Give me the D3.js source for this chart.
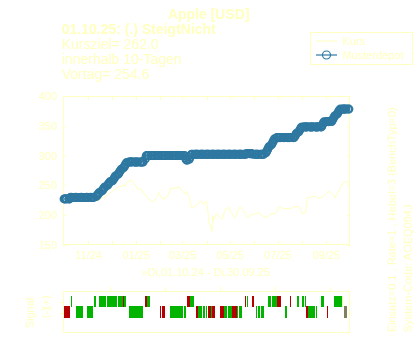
<!DOCTYPE html>
<html><head><meta charset="utf-8">
<script src="https://cdn.jsdelivr.net/npm/d3@7"></script>
<style>body{margin:0;background:#fff}svg{display:block}</style>
</head><body>
<svg id="c" width="420" height="350"></svg>
<script>
// ---------------- DATA ----------------
const title = "Apple [USD]";
const headLine = "01.10.25: (.) SteigtNicht";
const infoLines = ["Kursziel= 262.0", "innerhalb 10-Tagen", "Vortag= 254.6"];
const legendLabels = ["Kurs", "Musterdepot"];
const xAxisTitle = "\u00bbDi,01.10.24 - Di,30.09.25";
const sideText1 = "Einsatz=0.1 , Rate=1 , Hebel=3 (BenchTyp=0)";
const sideText2 = "System-Code: AOEQ094J";
const signalTitle = "Signal";
const signalTickLabels = ["(-)", "(+)"];
const signalTickValues = [0, 1];
const signalXTicks = [50, 100, 150, 200, 250];

const yTicks = [150, 200, 250, 300, 350, 400];
const xTickDates = ["2024-11-01","2024-12-01","2025-01-01","2025-02-01","2025-03-01","2025-04-01",
                    "2025-05-01","2025-06-01","2025-07-01","2025-08-01","2025-09-01"];
const xTickLabels = ["11/24","","01/25","","03/25","","05/25","","07/25","","09/25"];

// Kurs (price)
const kursDates = ["2024-10-01","2024-10-04","2024-10-09","2024-10-11","2024-10-15","2024-10-18","2024-10-22","2024-10-25","2024-10-29",
"2024-11-01","2024-11-06","2024-11-08","2024-11-13","2024-11-15","2024-11-20","2024-11-22","2024-11-27","2024-11-29",
"2024-12-04","2024-12-06","2024-12-10","2024-12-13","2024-12-16","2024-12-18","2024-12-20","2024-12-24","2024-12-26","2024-12-30",
"2025-01-03","2025-01-08","2025-01-10","2025-01-14","2025-01-16","2025-01-21","2025-01-24","2025-01-27","2025-01-30",
"2025-02-03","2025-02-07","2025-02-11","2025-02-14","2025-02-19","2025-02-21","2025-02-25","2025-02-28",
"2025-03-04","2025-03-07","2025-03-10","2025-03-13","2025-03-17","2025-03-21","2025-03-25","2025-03-28",
"2025-04-01","2025-04-03","2025-04-04","2025-04-08","2025-04-09","2025-04-10","2025-04-14","2025-04-17","2025-04-21","2025-04-25","2025-04-30",
"2025-05-02","2025-05-07","2025-05-09","2025-05-13","2025-05-16","2025-05-21","2025-05-23","2025-05-28",
"2025-06-02","2025-06-06","2025-06-11","2025-06-13","2025-06-18","2025-06-20","2025-06-25","2025-06-30",
"2025-07-03","2025-07-08","2025-07-11","2025-07-16","2025-07-18","2025-07-23","2025-07-28","2025-07-31",
"2025-08-01","2025-08-05","2025-08-07","2025-08-08","2025-08-12","2025-08-15","2025-08-19","2025-08-22","2025-08-27","2025-08-29",
"2025-09-03","2025-09-05","2025-09-09","2025-09-12","2025-09-16","2025-09-19","2025-09-23","2025-09-25","2025-09-26","2025-09-30"];
const kursValues = [226.2,226.8,229.5,227.6,233.9,235.0,235.9,231.4,233.7,
222.9,222.7,227.0,225.1,225.0,229.0,229.9,234.9,237.3,
243.0,242.8,247.8,248.1,251.0,248.1,254.5,258.2,259.0,252.2,
243.4,242.7,236.9,233.3,228.3,222.6,222.8,229.9,237.6,
228.0,227.6,232.6,244.6,244.9,245.6,247.1,241.8,
235.9,239.1,227.5,212.7,214.0,218.3,223.8,217.9,
223.2,203.2,188.4,172.4,198.9,190.4,202.5,197.0,193.2,209.3,212.5,
205.4,196.3,198.5,212.9,211.3,202.1,195.3,200.4,
201.7,203.9,198.8,196.5,196.6,201.0,201.6,205.2,
213.6,210.0,211.2,210.2,211.2,214.2,214.1,207.6,
202.4,202.9,220.0,229.4,229.7,231.6,230.6,227.8,230.5,232.1,
238.5,239.7,234.4,229.1,238.2,245.5,254.4,257.0,255.5,254.6];

// Musterdepot, one value per weekday, Oct 2024 .. Sep 2025
const depotOct = [227.0,227.0,227.1,227.0,226.9,227.0,229.5,229.6,229.5,229.4,229.5,229.6,229.5,229.5,229.4,229.5,229.6,229.5,229.5,229.4,229.5,229.6,229.5];
const depotNov = [229.5,229.6,229.5,229.4,229.5,229.6,231.0,232.6,234.0,236.1,237.8,240.0,241.6,243.2,245.5,247.0,249.3,250.6,252.9,254.3,256.4];
const depotDec = [257.4,259.9,261.5,264.2,266.0,268.3,270.1,272.8,274.5,277.0,279.4,281.2,283.9,286.1,288.4,289.2,289.0,289.1,289.3,289.2,289.0,289.1];
const depotJan = [289.1,289.0,289.2,289.1,289.0,289.2,289.1,289.0,294.5,299.6,299.8,300.0,299.9,300.1,300.0,299.8,300.0,300.1,299.9,300.0,300.0,300.1,299.9];
const depotFeb = [300.0,300.1,299.9,300.0,300.0,300.1,300.0,299.9,300.0,300.1,300.0,300.0,299.9,300.0,300.1,300.0,300.0,299.9,300.0,300.1];
const depotMar = [300.0,299.8,296.0,293.0,292.0,293.5,297.0,301.0,302.0,302.1,301.9,302.0,302.0,302.1,302.0,301.9,302.0,302.0,302.1,302.0,301.9];
const depotApr = [302.0,302.0,302.1,302.0,301.9,302.0,302.0,302.1,302.0,302.0,301.9,302.0,302.1,302.0,302.0,301.9,302.0,302.0,302.1,302.0,302.0,301.9];
const depotMay = [302.0,302.0,302.1,302.0,301.9,302.0,302.0,302.1,302.0,302.0,301.9,302.0,302.1,302.0,302.0,303.0,303.2,303.1,303.0,303.2,303.1,302.2];
const depotJun = [302.0,301.9,302.0,302.0,302.1,302.0,301.9,302.0,302.0,302.1,304.5,307.2,309.8,312.5,315.1,317.9,320.4,323.0,325.6,328.1,330.2];
const depotJul = [330.2,330.0,330.1,330.0,330.2,330.1,330.0,330.1,330.2,330.0,330.1,330.0,330.2,330.1,330.0,330.1,332.5,334.8,337.4,339.9,342.3,344.8,347.0];
const depotAug = [348.0,348.1,348.0,347.9,348.0,348.1,348.0,348.0,347.9,348.0,348.1,348.0,348.0,347.9,348.0,348.1,348.0,348.0,351.0,354.0,356.5];
const depotSep = [357.0,357.1,357.0,356.9,357.0,357.1,359.5,362.0,364.5,367.0,369.5,372.0,374.5,376.5,378.0,378.1,378.0,377.9,378.0,378.1,378.0,378.0];

// Signal bars: [startIndex, endIndex, type]  (g = green, r = red, o = olive, y = pale)
const signalPlus = [
[15.0,15.9,"g"],[35.6,36.5,"g"],[37.1,38.0,"g"],[40.5,46.5,"g"],[47.7,57.1,"g"],[57.7,62.0,"g"],[62.0,62.9,"r"],[62.9,64.7,"g"],
[82.3,84.1,"r"],[84.1,86.8,"g"],[120.5,123.2,"r"],[123.2,126.8,"g"],[173.2,174.1,"r"],[175.0,175.9,"g"],[179.5,181.4,"r"],
[194.1,196.8,"g"],[197.7,202.3,"g"],[202.3,205.9,"r"],[214.1,215.0,"r"],[220.5,222.3,"g"],[225.0,226.8,"g"],[227.7,228.6,"g"],
[242.3,245.0,"g"],[254.1,257.3,"g"],[257.7,261.4,"g"],[261.4,262.7,"y"]];
const signalMinus = [
[8.6,14.1,"r"],[19.5,25.9,"g"],[29.5,35.0,"g"],[67.7,77.7,"g"],[78.0,80.5,"g"],[95.9,96.8,"r"],[97.7,100.5,"r"],
[105.0,116.8,"g"],[117.7,119.5,"g"],[128.6,130.5,"r"],[130.5,134.1,"g"],[135.0,136.8,"g"],[137.7,138.6,"g"],
[139.5,142.3,"r"],[142.3,143.2,"g"],[143.2,145.9,"r"],[150.5,154.1,"r"],[154.1,156.8,"g"],[157.7,161.4,"g"],
[161.4,165.9,"r"],[165.9,166.8,"g"],[167.7,170.5,"g"],[183.2,184.1,"g"],[185.0,186.8,"g"],[187.7,190.5,"g"],
[209.5,211.4,"g"],[228.6,230.5,"r"],[230.5,236.8,"g"],[237.7,238.6,"g"],[247.7,248.6,"r"],[263.6,265.5,"o"]];

// ---------------- DRAWING ----------------
const FG = "#ffffbf";
const BLUE = "#2e78a1";
const FONT = "Liberation Sans, Arial, Helvetica, sans-serif";
const typeColor = {g: "#00b400", r: "#b40000", o: "#808060", y: "#e8ffa0"};
const parse = d3.timeParse("%Y-%m-%d");
const svg = d3.select("#c").style("font-family", FONT);
svg.append("rect").attr("width", 420).attr("height", 350).attr("fill", "#fff");

const X0 = 63.3, X1 = 349.7, Y0 = 96, Y1 = 244.7;
const x = d3.scaleTime().domain([new Date(2024, 8, 30), new Date(2025, 9, 1)]).range([X0, X1]);
const y = d3.scaleLinear().domain([150, 400]).range([Y1, Y0]);

function styleAxis(g, size) {
  g.select(".domain").remove();
  g.selectAll("line").attr("stroke", FG).attr("shape-rendering", "crispEdges");
  g.selectAll("text").attr("fill", FG).attr("font-size", size).attr("font-family", FONT);
}

// frame
svg.append("rect").attr("x", X0).attr("y", Y0).attr("width", X1 - X0).attr("height", Y1 - Y0)
  .attr("fill", "none").attr("stroke", FG).attr("shape-rendering", "crispEdges");

const xt = xTickDates.map(parse);
svg.append("g").attr("transform", `translate(0,${Y1})`)
  .call(d3.axisBottom(x).tickValues(xt).tickSize(-4).tickPadding(7).tickFormat((d, i) => xTickLabels[i]))
  .call(g => styleAxis(g, 11));
svg.append("g").attr("transform", `translate(0,${Y0})`)
  .call(d3.axisTop(x).tickValues(xt).tickSize(-4).tickFormat(""))
  .call(g => styleAxis(g, 11));
svg.append("g").attr("transform", `translate(${X0},0)`)
  .call(d3.axisLeft(y).tickValues(yTicks).tickSize(-3).tickPadding(6))
  .call(g => styleAxis(g, 11));
svg.append("g").attr("transform", `translate(${X1},0)`)
  .call(d3.axisRight(y).tickValues(yTicks).tickSize(-3).tickFormat(""))
  .call(g => styleAxis(g, 11));

// Kurs line
const kurs = kursDates.map((d, i) => ({date: parse(d), v: kursValues[i]}));
svg.append("path").datum(kurs)
  .attr("d", d3.line().x(d => x(d.date)).y(d => y(d.v)))
  .attr("fill", "none").attr("stroke", FG).attr("stroke-width", 1);

// Musterdepot
const depotValues = [].concat(depotOct, depotNov, depotDec, depotJan, depotFeb, depotMar,
  depotApr, depotMay, depotJun, depotJul, depotAug, depotSep);
const tradingDays = d3.timeDay.range(new Date(2024, 9, 1), new Date(2025, 9, 1)).filter(d => d.getDay() % 6 !== 0);
const depot = depotValues.map((v, i) => ({date: tradingDays[i], v}));
svg.append("path").datum(depot)
  .attr("d", d3.line().x(d => x(d.date)).y(d => y(d.v)))
  .attr("fill", "none").attr("stroke", BLUE).attr("stroke-width", 1);
svg.append("g").selectAll("circle").data(depot).join("circle")
  .attr("cx", d => x(d.date)).attr("cy", d => y(d.v)).attr("r", 3.6)
  .attr("fill", "none").attr("stroke", BLUE).attr("stroke-width", 1.8);

// x axis title
svg.append("text").attr("x", 206).attr("y", 276).attr("text-anchor", "middle")
  .attr("font-size", 11).attr("fill", FG).text(xAxisTitle);

// Titles
svg.append("text").attr("x", 209).attr("y", 19).attr("text-anchor", "middle")
  .attr("font-size", 14).attr("font-weight", "bold").attr("fill", FG).text(title);
svg.append("text").attr("x", 62).attr("y", 33.5)
  .attr("font-size", 14).attr("font-weight", "bold").attr("fill", FG).text(headLine);
infoLines.forEach((t, i) => {
  svg.append("text").attr("x", 62).attr("y", 49.3 + i * 15)
    .attr("font-size", 14).attr("fill", FG).text(t);
});

// Legend
const lg = svg.append("g");
lg.append("rect").attr("x", 310.5).attr("y", 32.5).attr("width", 102).attr("height", 32)
  .attr("fill", "none").attr("stroke", FG);
const legY = [41, 55];
lg.append("line").attr("x1", 316).attr("x2", 337).attr("y1", legY[0]).attr("y2", legY[0])
  .attr("stroke", FG);
lg.append("line").attr("x1", 316).attr("x2", 337).attr("y1", legY[1]).attr("y2", legY[1])
  .attr("stroke", BLUE).attr("stroke-width", 1.2);
lg.append("circle").attr("cx", 326.5).attr("cy", legY[1]).attr("r", 4)
  .attr("fill", "none").attr("stroke", BLUE).attr("stroke-width", 1.2);
legendLabels.forEach((t, i) => {
  lg.append("text").attr("x", 342.7).attr("y", legY[i] + 4).attr("font-size", 11)
    .attr("fill", FG).text(t);
});

// Side texts
svg.append("text").attr("transform", "translate(395.5,332.3) rotate(-90)")
  .attr("font-size", 11).attr("fill", FG).text(sideText1);
svg.append("text").attr("transform", "translate(412.3,332.3) rotate(-90)")
  .attr("font-size", 11).attr("fill", FG).text(sideText2);

// ---------------- Signal panel ----------------
const SX0 = 63.3, SX1 = 349.3, SY0 = 291, SY1 = 332.7;
const sx = d3.scaleLinear().domain([8, 268]).range([SX0, SX1]);
const sy = d3.scaleLinear().domain([-1.92, 2.09]).range([SY1, SY0]);

svg.append("rect").attr("x", SX0).attr("y", SY0).attr("width", SX1 - SX0).attr("height", SY1 - SY0)
  .attr("fill", "none").attr("stroke", FG).attr("shape-rendering", "crispEdges");

function drawBars(data, level) {
  svg.append("g").selectAll("rect").data(data).join("rect")
    .attr("x", d => sx(d[0])).attr("width", d => Math.max(0.8, sx(d[1]) - sx(d[0])))
    .attr("y", sy(level + 0.6)).attr("height", sy(level - 0.46) - sy(level + 0.6))
    .attr("fill", d => typeColor[d[2]]).attr("shape-rendering", "crispEdges");
}
drawBars(signalPlus, 1);
drawBars(signalMinus, 0);

svg.append("g").attr("transform", `translate(0,${SY0})`)
  .call(d3.axisTop(sx).tickValues(signalXTicks).tickSize(4).tickFormat(""))
  .call(g => styleAxis(g, 11));
svg.append("g").attr("transform", `translate(${SX0},0)`)
  .call(d3.axisLeft(sy).tickValues(signalTickValues).tickSize(3).tickFormat(""))
  .call(g => styleAxis(g, 11));
svg.append("g").attr("transform", `translate(${SX1},0)`)
  .call(d3.axisRight(sy).tickValues(signalTickValues).tickSize(3).tickFormat(""))
  .call(g => styleAxis(g, 11));
signalTickValues.forEach((v, i) => {
  svg.append("text").attr("transform", `translate(50,${sy(v)}) rotate(-90)`)
    .attr("text-anchor", "middle").attr("font-size", 11).attr("fill", FG).text(signalTickLabels[i]);
});
svg.append("text").attr("transform", "translate(33.5,313) rotate(-90)")
  .attr("text-anchor", "middle").attr("font-size", 11).attr("fill", FG).text(signalTitle);
</script>
</body></html>
